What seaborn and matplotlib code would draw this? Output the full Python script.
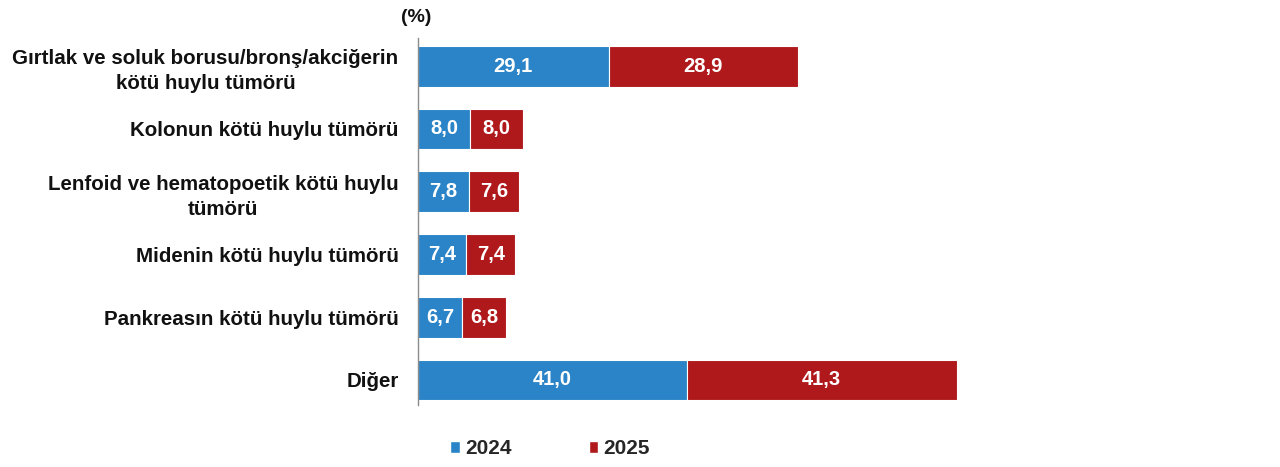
import matplotlib
matplotlib.use("Agg")
import matplotlib.pyplot as plt
import seaborn as sns
import pandas as pd
from matplotlib.patches import Patch

# data
categories = [
    "Gırtlak ve soluk borusu/bronş/akciğerin\nkötü huylu tümörü",
    "Kolonun kötü huylu tümörü",
    "Lenfoid ve hematopoetik kötü huylu\ntümörü",
    "Midenin kötü huylu tümörü",
    "Pankreasın kötü huylu tümörü",
    "Diğer",
]
values_2024 = [29.1, 8.0, 7.8, 7.4, 6.7, 41.0]
values_2025 = [28.9, 8.0, 7.6, 7.4, 6.8, 41.3]
years = ["2024", "2025"]

blue = "#2a84c7"
red = "#b0191b"

sns.set_theme(style="white")
plt.rcParams["font.family"] = ["Liberation Sans", "DejaVu Sans"]
plt.rcParams["font.weight"] = "bold"

df = pd.DataFrame({"cat": categories, "v24": values_2024, "v25": values_2025})

fig = plt.figure(figsize=(12.8, 4.67), dpi=100)
ax = fig.add_axes([418 / 1280, 62 / 467, 832 / 1280, 367 / 467])

sns.barplot(data=df, y="cat", x="v24", color=blue, orient="h", width=0.65,
            edgecolor="white", linewidth=0.8, saturation=1, ax=ax)
sns.barplot(data=df, y="cat", x="v25", color=red, orient="h", width=0.65,
            edgecolor="white", linewidth=0.8, saturation=1, ax=ax)

# stack the 2025 segments after the 2024 ones
for patch, left in zip(ax.containers[1], df["v24"]):
    patch.set_x(left)

for cont, vals in zip(ax.containers, [values_2024, values_2025]):
    ax.bar_label(cont, labels=[f"{v:.1f}".replace(".", ",") for v in vals],
                 label_type="center", color="white", fontsize=14.5, fontweight="bold")

ax.set_xlim(0, 832 / 6.55)
ax.set_ylim(5.4, -0.45)
ax.set_xlabel("")
ax.set_ylabel("")
ax.set_xticks([])
for s in ["top", "right", "bottom"]:
    ax.spines[s].set_visible(False)
ax.spines["left"].set_color("#8c8c8c")
ax.spines["left"].set_linewidth(1)
ax.tick_params(axis="y", length=0, pad=14)
for lbl in ax.get_yticklabels():
    lbl.set_fontsize(14.8)
    lbl.set_fontweight("bold")
    lbl.set_multialignment("center")
    lbl.set_linespacing(1.4)
    lbl.set_color("#111111")

fig.text(416 / 1280, 1 - 17 / 467, "(%)", ha="center", va="center",
         fontsize=14, fontweight="bold", color="#111111")

handles = [Patch(facecolor=blue, label=years[0]), Patch(facecolor=red, label=years[1])]
fig.legend(handles=handles, loc="center", bbox_to_anchor=(550 / 1280, 1 - 449 / 467),
           ncol=2, frameon=False, handlelength=0.45, handleheight=0.45,
           handletextpad=0.25, columnspacing=3.7,
           prop={"size": 15, "weight": "bold"})

fig.savefig("out.png", dpi=100, facecolor="white")
